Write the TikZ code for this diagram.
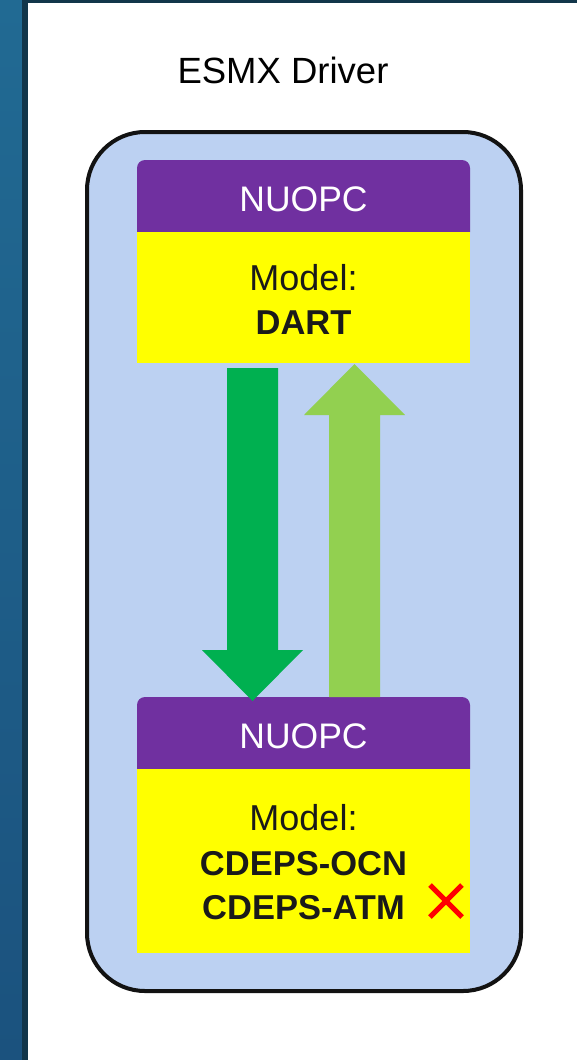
\documentclass[tikz,border=0pt]{standalone}
\usepackage{fontspec}
\usetikzlibrary{calc}
\setmainfont{Liberation Sans}
\definecolor{stripA}{HTML}{216A93}
\definecolor{stripB}{HTML}{1B527E}
\definecolor{edge}{HTML}{12364A}
\definecolor{boxfill}{HTML}{BCD1F2}
\definecolor{purp}{HTML}{7030A0}
\definecolor{yel}{HTML}{FFFF00}
\definecolor{dgreen}{HTML}{00B050}
\definecolor{lgreen}{HTML}{92D050}
\definecolor{txt}{HTML}{1A1A1A}
\tikzset{
  hdr/.style={fill=purp, draw=none},
  body/.style={fill=yel, draw=none},
  hdrtext/.style={text=white, font=\fontsize{35.5}{38}\selectfont, inner sep=0pt},
  modeltext/.style={text=txt, font=\fontsize{34.5}{44.5}\selectfont, align=center, inner sep=0pt},
  boldtext/.style={font=\fontsize{34.5}{44.5}\selectfont\bfseries}
}
\begin{document}
\begin{tikzpicture}[x=1pt,y=-1pt]
\useasboundingbox (0,0) rectangle (577,1060);
\fill[white] (0,0) rectangle (577,1060);
\shade[top color=stripA, bottom color=stripB] (0,0) rectangle (22,1060);
\fill[edge] (22,0) rectangle (28,1060);
\fill[edge] (22,0) rectangle (577,3);
% title
\node[text=black, font=\fontsize{36.5}{40}\selectfont, inner sep=0pt] (title) at (283,70) {ESMX Driver};
% outer box
\draw[line width=4pt, draw=black!93, fill=boxfill, rounded corners=58pt] (87,132) rectangle (521,991);
% top module
\fill[hdr, rounded corners=8pt] (137,160) rectangle (470,240);
\fill[body] (137,232) rectangle (470,363);
\node[hdrtext] (nuopc1) at (303.5,199) {NUOPC};
\node[modeltext] (m1) at (303.5,299.5) {\fontsize{36}{44.5}\selectfont Model:\\\textbf{DART}};
% bottom module
\fill[hdr, rounded corners=8pt] (137,697) rectangle (470,777);
\fill[body] (137,769) rectangle (470,953);
\node[hdrtext] (nuopc2) at (303.5,736) {NUOPC};
\node[modeltext] (m2) at (303.5,862.5) {\fontsize{36}{44.5}\selectfont Model:\\\textbf{CDEPS-OCN}\\\textbf{CDEPS-ATM}};
% arrows
\fill[dgreen] (227,368) -- (278,368) -- (278,650) -- (303,650) -- (252.5,701) -- (202,650) -- (227,650) -- cycle;
\fill[lgreen] (329,697) -- (380,697) -- (380,415) -- (405,415) -- (354.5,364) -- (304,415) -- (329,415) -- cycle;
% red cross
\coordinate (xc) at (446,901);
\draw[red, line width=5pt] ($(xc)+(-16,-16)$) -- ($(xc)+(16,16)$) ($(xc)+(-16,16)$) -- ($(xc)+(16,-16)$);
\end{tikzpicture}
\end{document}
